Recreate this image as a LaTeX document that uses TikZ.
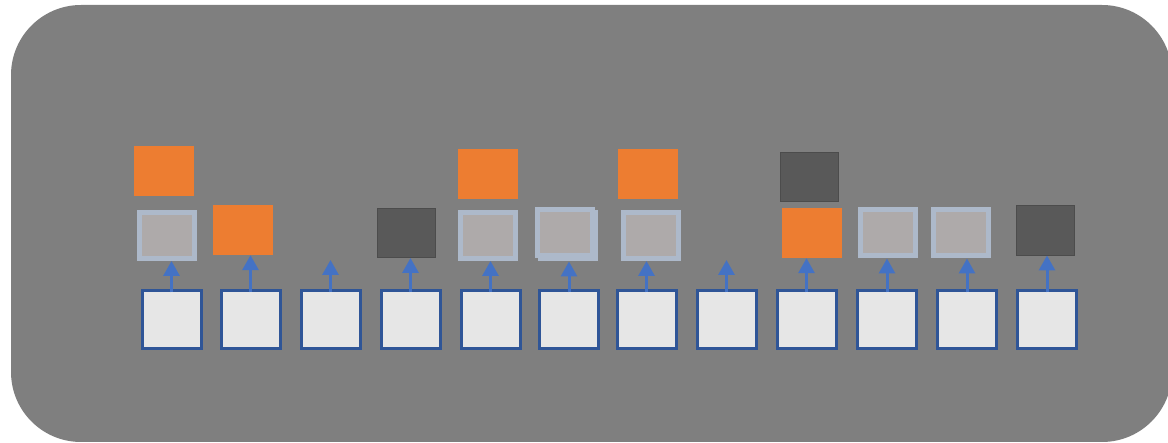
\documentclass[tikz,border=0pt]{standalone}
\usetikzlibrary{arrows.meta}
\definecolor{panelgray}{HTML}{7F7F7F}
\definecolor{hotorange}{HTML}{ED7D31}
\definecolor{coldgray}{HTML}{595959}
\definecolor{memfill}{HTML}{AEAAAA}
\definecolor{memrim}{HTML}{ADB9CA}
\definecolor{inpfill}{HTML}{E6E6E6}
\definecolor{inprim}{HTML}{2F5597}
\definecolor{feedblue}{HTML}{4472C4}
\begin{document}
\begin{tikzpicture}[
		x=1pt, y=-1pt,
		cell/.style={inner sep=0pt, minimum width=60pt, minimum height=50pt},
		inp/.style={draw=inprim, fill=inpfill, line width=3pt, inner sep=0pt, minimum width=59pt, minimum height=58pt},
		mem/.style={cell, draw=memrim, fill=memfill, line width=5pt, minimum width=55pt, minimum height=46pt},
		hot/.style={cell, fill=hotorange},
		cold/.style={cell, fill=coldgray, draw=coldgray!85!black, line width=0.8pt, minimum width=58.2pt, minimum height=49.2pt},
		feed/.style={-{Triangle[width=16pt,length=15pt]}, feedblue, line width=3pt}
	]
		\useasboundingbox (0,0) rectangle (1168,443);
		\fill[panelgray, rounded corners=70pt] (11,5) rectangle (1172,442);

		% top row
		\node[hot] (t1) at (163.5,171.5) {};
		\node[hot] (t5) at (487.5,174) {};
		\node[hot] (t7) at (648,174) {};
		\node[cold] (t9) at (809.5,177) {};

		% middle row
		\node[mem] (m1) at (166.5,235.5) {};
		\node[hot] (m2) at (242.5,230) {};
		\coordinate (m3) at (330,260);
		\node[cold] (m4) at (406.5,233) {};
		\node[mem] (m5) at (487.5,235.5) {};
		\node[mem] (m6b) at (568,236) {};
		\node[mem] (m6) at (565,233) {};
		\node[mem] (m7) at (650.5,235.5) {};
		\coordinate (m8) at (728,260);
		\node[hot] (m9) at (811.5,233) {};
		\node[mem] (m10) at (887.5,233) {};
		\node[mem] (m11) at (961,233) {};
		\node[cold] (m12) at (1045.5,230.5) {};

		% bottom row
		\node[inp] (b1) at (171.5,320) {};
		\node[inp] (b2) at (250.5,320) {};
		\node[inp] (b3) at (330.5,320) {};
		\node[inp] (b4) at (410.5,320) {};
		\node[inp] (b5) at (490.5,320) {};
		\node[inp] (b6) at (569,320) {};
		\node[inp] (b7) at (646.5,320) {};
		\node[inp] (b8) at (726.5,320) {};
		\node[inp] (b9) at (806.5,320) {};
		\node[inp] (b10) at (887,320) {};
		\node[inp] (b11) at (967,320) {};
		\node[inp] (b12) at (1047,320) {};

		\draw[feed] ([yshift=-3pt]b1.north) -- (b1.north |- m1.south);
		\draw[feed] ([yshift=-3pt]b2.north) -- (b2.north |- m2.south);
		\draw[feed] ([yshift=-3pt]b3.north) -- (b3.north |- m3);
		\draw[feed] ([yshift=-3pt]b4.north) -- (b4.north |- m4.south);
		\draw[feed] ([yshift=-3pt]b5.north) -- (b5.north |- m5.south);
		\draw[feed] ([yshift=-3pt]b6.north) -- (b6.north |- m6b.south);
		\draw[feed] ([yshift=-3pt]b7.north) -- (b7.north |- m7.south);
		\draw[feed] ([yshift=-3pt]b8.north) -- (b8.north |- m8);
		\draw[feed] ([yshift=-3pt]b9.north) -- (b9.north |- m9.south);
		\draw[feed] ([yshift=-3pt]b10.north) -- (b10.north |- m10.south);
		\draw[feed] ([yshift=-3pt]b11.north) -- (b11.north |- m11.south);
		\draw[feed] ([yshift=-3pt]b12.north) -- (b12.north |- m12.south);
	\end{tikzpicture}
\end{document}
